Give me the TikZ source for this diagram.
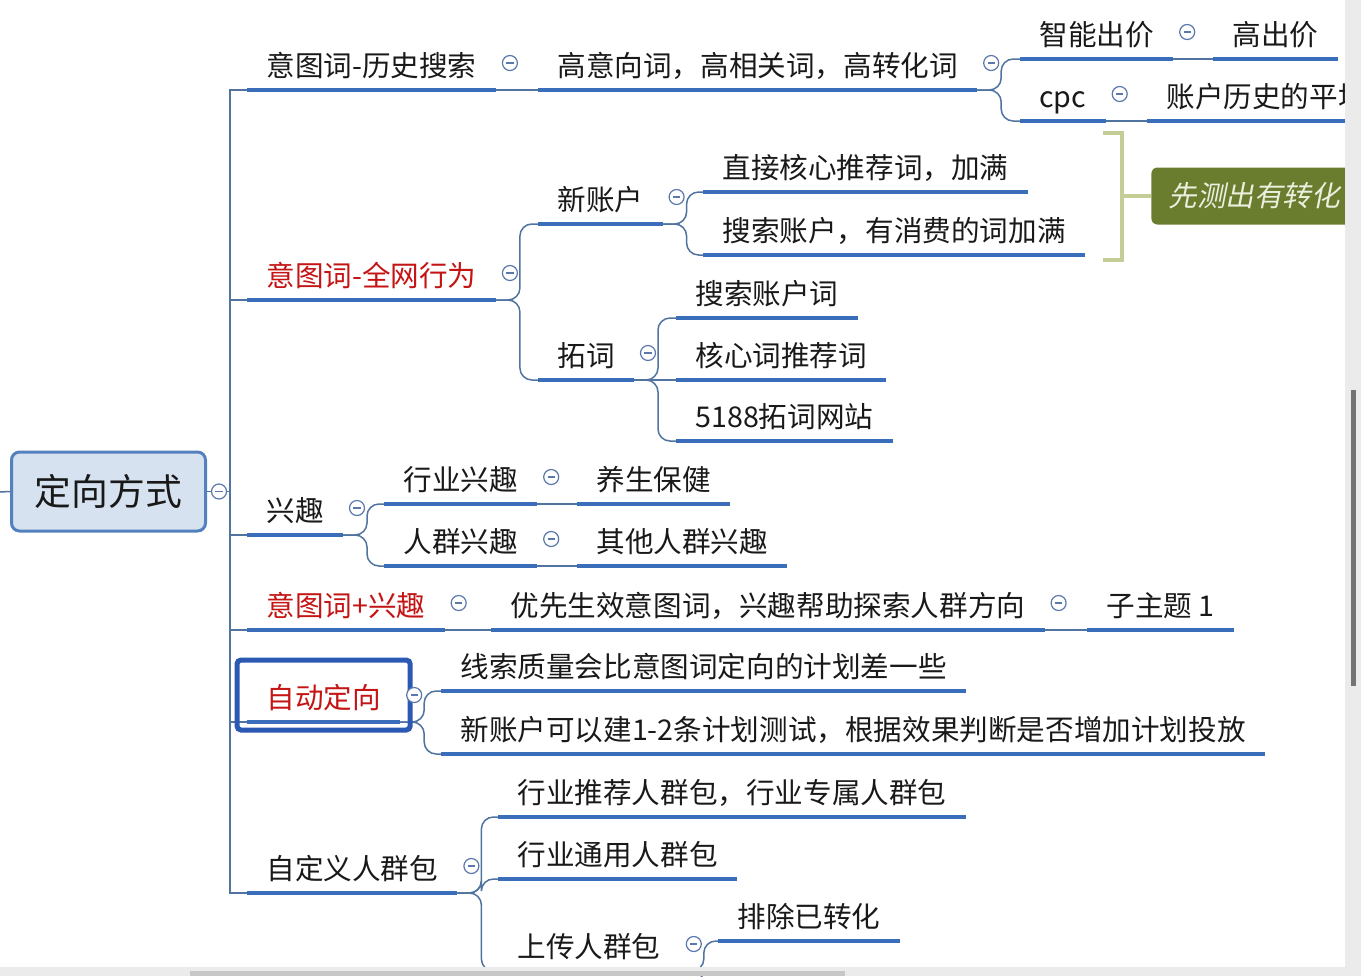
\documentclass[tikz,border=0pt]{standalone}
\usepackage{fontspec}
\setmainfont{Noto Sans CJK SC}
\newfontfamily\slantcjk[FakeSlant=0.2]{Noto Sans CJK SC}
\usepackage{tikz}
\usetikzlibrary{calc}
\usepackage{xcolor}
\definecolor{ink}{RGB}{25,25,25}
\definecolor{hot}{RGB}{196,20,20}
\definecolor{ulc}{RGB}{58,110,186}
\definecolor{linkc}{RGB}{80,115,160}
\definecolor{foldc}{RGB}{90,120,172}
\definecolor{rootfill}{RGB}{214,226,240}
\definecolor{rootdraw}{RGB}{84,128,190}
\definecolor{selc}{RGB}{42,88,178}
\definecolor{bracec}{RGB}{196,205,150}
\definecolor{notefill}{RGB}{106,124,46}
\definecolor{notetext}{RGB}{236,239,222}
\tikzset{
  uline/.style ={draw=ulc, line width=2pt},
  topic/.style ={anchor=south west, inner xsep=9.5pt, inner ysep=3.9pt, text height=1em, text depth=0.25em,
                 font=\fontsize{14.3}{17}\selectfont, text=ink,
                 append after command={(\tikzlastnode.south west) edge[uline] (\tikzlastnode.south east)}},
  topicR/.style={topic, text=hot},
  rootv/.style ={draw=rootdraw, fill=rootfill, line width=1.5pt, rounded corners=4pt, minimum width=97pt,
                 minimum height=39.5pt, font=\fontsize{18.4}{22}\selectfont, text=ink},
  fold/.style  ={circle, draw=foldc, fill=white, line width=0.6pt, minimum size=7.5pt, inner sep=0pt,
                 path picture={\draw[foldc, line width=0.6pt] ([xshift=-1.8pt]path picture bounding box.center)
                 -- ([xshift=1.8pt]path picture bounding box.center);}},
  link/.style  ={draw=linkc, line width=0.75pt},
  sel/.style   ={draw=selc, line width=2.5pt, rounded corners=2pt},
  brace/.style ={draw=bracec, line width=2pt},
  note/.style  ={anchor=west, fill=notefill, rounded corners=3pt, minimum height=28.5pt, text width=110pt,
                 inner xsep=8.5pt, font=\slantcjk\fontsize{14.3}{17}\selectfont, text=notetext},
  strip/.style ={fill=black!8},
  thumb/.style ={fill=black!55},
}

\begin{document}
\begin{tikzpicture}[x=0.5pt, y=-0.5pt]
  \useasboundingbox (0,0) rectangle (1361,976);
  % root
  \node[rootv] (root) at (108.5,491.5) {定向方式};
  \coordinate (up) at (0,492);
  \draw[link] (up) -- (root.west);
  % first level
  \node[topic]  (hist)  at (247,90)  {意图词-历史搜索};
  \node[topicR] (web)   at (247,300) {意图词-全网行为};
  \node[topic]  (intr)  at (247,535) {兴趣};
  \node[topicR] (mix)   at (247,630) {意图词+兴趣};
  \node[topicR] (autod) at (247,722) {自动定向};
  \node[topic]  (cust)  at (247,893) {自定义人群包};
  % second level
  \node[topic] (hiw)    at (538,90)  {高意向词，高相关词，高转化词};
  \node[topic] (newacc) at (538,224) {新账户};
  \node[topic] (expand) at (538,380) {拓词};
  \node[topic] (ind)    at (384,504) {行业兴趣};
  \node[topic] (crowd)  at (384,566) {人群兴趣};
  \node[topic] (prio)   at (491,630) {优先生效意图词，兴趣帮助探索人群方向};
  \node[topic] (clue)   at (441,691) {线索质量会比意图词定向的计划差一些};
  \node[topic] (test)   at (441,754) {新账户可以建1-2条计划测试，根据效果判断是否增加计划投放};
  \node[topic] (rec)    at (498,817) {行业推荐人群包，行业专属人群包};
  \node[topic] (gen)    at (498,879) {行业通用人群包};
  \node[topic] (upl)    at (498,971) {上传人群包};
  % third level
  \node[topic] (smart)  at (1020,59)  {智能出价};
  \node[topic] (cpc)    at (1020,121) {cpc};
  \node[topic] (direct) at (703,192)  {直接核心推荐词，加满};
  \node[topic] (spent)  at (703,255)  {搜索账户，有消费的词加满};
  \node[topic] (accw)   at (676,318)  {搜索账户词};
  \node[topic] (corew)  at (676,380)  {核心词推荐词};
  \node[topic] (site)   at (676,441)  {5188拓词网站};
  \node[topic] (health) at (577,504)  {养生保健};
  \node[topic] (other)  at (577,566)  {其他人群兴趣};
  \node[topic] (sub)    at (1087,630) {子主题 1};
  \node[topic] (excl)   at (718,941)  {排除已转化};
  \coordinate (cut) at (718,1003);
  % fourth level
  \node[topic] (high) at (1213,59)  {高出价};
  \node[topic] (avg)  at (1147,121) {账户历史的平均};
  % connectors
  \foreach \c in {hist,web,intr,mix,autod,cust}
    \draw[link] (root.east) -- ++(23,0) |- (\c.south west);
  \foreach \p/\c in {hist/hiw, smart/high, cpc/avg, expand/corew, ind/health, crowd/other, mix/prio, prio/sub}
    \draw[link] (\p.south east) -- (\c.south west);
  \foreach \p/\c in {hiw/smart, hiw/cpc, web/newacc, web/expand, newacc/direct, newacc/spent,
                     expand/accw, expand/site, intr/ind, intr/crowd, autod/clue, autod/test,
                     cust/rec, cust/gen, cust/upl, upl/excl}
    \draw[link, rounded corners=6pt] (\p.south east) -- ++(24,0) |- (\c.south west);
  \draw[link, rounded corners=6pt] (upl.south east) -- ++(24,0) |- (cut);
  % selected topic
  \draw[sel] ([shift={(-5pt,-4pt)}]autod.south west) rectangle ([shift={(5pt,31pt)}]autod.south east);
  % fold buttons
  \node[fold] (froot) at ([xshift=6pt]root.east) {};
  \foreach \n in {hist,hiw,smart,cpc,web,newacc,expand,intr,ind,crowd,mix,prio,autod,cust,upl}
    \node[fold] (f\n) at ([shift={(7pt,13.5pt)}]\n.south east) {};
  % summary
  \coordinate (bmid) at (1122,196);
  \draw[brace] (1103,133) -- (1122,133) -- (1122,260) -- (1103,260);
  \node[note] (note) at (1151,196) {先测出有转化};
  \draw[brace] (bmid) -- (note.west);
  % scroll bars
  \fill[strip] (1345,0) rectangle (1361,976);
  \fill[strip] (0,967) rectangle (1361,976);
  \fill[thumb] (1351,390) rectangle (1356,686);
  \fill[black!22] (190,971) rectangle (845,976);
\end{tikzpicture}
\end{document}
